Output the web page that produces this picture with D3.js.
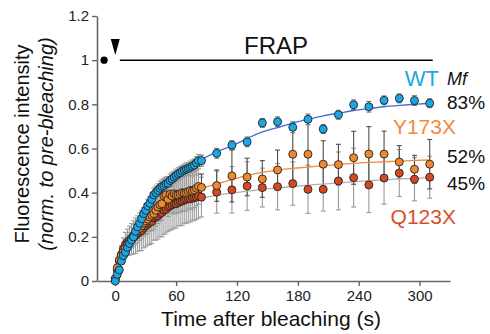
<!DOCTYPE html>
<html>
<head>
<meta charset="utf-8">
<script src="https://cdn.jsdelivr.net/npm/d3@7"></script>
<style>
  body { margin: 0; background: #fff; }
  svg text { font-family: "Liberation Sans", Arial, sans-serif; }
</style>
</head>
<body>
<div id="chart"></div>
<script>
// time points (s): fast imaging first, then every 15 s
var times = [0, 2, 4, 6, 8, 10, 12, 14, 16, 18, 20, 22, 24, 26, 28, 30, 32, 34, 36, 38, 40,
             42, 44, 46, 48, 50, 52, 54, 56, 58, 60, 62, 64, 66, 68, 70, 72, 74, 76, 78, 80, 82,
             85, 100, 115, 130, 145, 160, 175, 190, 205, 220, 235, 250, 265, 280, 295, 310];

var wt = [0, 0.03, 0.05, 0.09, 0.115, 0.13, 0.152, 0.17, 0.185, 0.2, 0.225, 0.245, 0.262, 0.282, 0.305, 0.32, 0.34, 0.352, 0.37, 0.39, 0.4,
          0.41, 0.42, 0.428, 0.432, 0.44, 0.443, 0.455, 0.462, 0.47, 0.478, 0.485, 0.49, 0.497, 0.502, 0.507, 0.51, 0.515, 0.52, 0.525, 0.535, 0.545,
          0.545, 0.578, 0.615, 0.63, 0.716, 0.721, 0.696, 0.732, 0.688, 0.753, 0.798, 0.789, 0.818, 0.827, 0.817, 0.805];
var wtErr = [0, 0.01, 0.015, 0.015, 0.02, 0.02, 0.02, 0.022, 0.022, 0.025, 0.025, 0.024, 0.027, 0.027, 0.028, 0.028, 0.03, 0.029, 0.03, 0.031, 0.03,
             0.03, 0.032, 0.03, 0.031, 0.03, 0.03, 0.029, 0.03, 0.028, 0.029, 0.028, 0.028, 0.027, 0.028, 0.028, 0.027, 0.028, 0.028, 0.027, 0.028, 0.028,
             0.025, 0.022, 0.02, 0.022, 0.02, 0.022, 0.025, 0.024, 0.02, 0.02, 0.022, 0.024, 0.02, 0.02, 0.022, 0.02];

var y173x = [0.01, 0.06, 0.095, 0.115, 0.13, 0.15, 0.165, 0.18, 0.195, 0.205, 0.215, 0.228, 0.238, 0.25, 0.262, 0.272, 0.28, 0.29, 0.298, 0.305, 0.32,
             0.335, 0.345, 0.35, 0.385, 0.39, 0.37, 0.392, 0.385, 0.395, 0.39, 0.39, 0.395, 0.4, 0.398, 0.4, 0.405, 0.41, 0.408, 0.412, 0.42, 0.428,
             0.424, 0.432, 0.476, 0.471, 0.462, 0.503, 0.574, 0.574, 0.529, 0.527, 0.558, 0.575, 0.575, 0.539, 0.506, 0.529];
var y173xErr = [0, 0.01, 0.02, 0.025, 0.03, 0.035, 0.04, 0.04, 0.045, 0.05, 0.05, 0.055, 0.055, 0.06, 0.06, 0.062, 0.065, 0.065, 0.07, 0.07, 0.072,
                0.075, 0.075, 0.074, 0.08, 0.08, 0.078, 0.08, 0.082, 0.085, 0.085, 0.08, 0.085, 0.084, 0.08, 0.085, 0.08, 0.08, 0.085, 0.08, 0.08, 0.08,
                0.06, 0.071, 0.118, 0.085, 0.083, 0.09, 0.14, 0.163, 0.106, 0.092, 0.12, 0.124, 0.104, 0.074, 0.063, 0.112];

var q123x = [0.01, 0.05, 0.09, 0.12, 0.145, 0.165, 0.175, 0.183, 0.19, 0.198, 0.205, 0.215, 0.222, 0.228, 0.24, 0.25, 0.258, 0.265, 0.27, 0.285, 0.29,
             0.295, 0.305, 0.31, 0.32, 0.325, 0.335, 0.34, 0.345, 0.35, 0.35, 0.355, 0.36, 0.362, 0.367, 0.37, 0.372, 0.372, 0.375, 0.378, 0.38, 0.385,
             0.38, 0.402, 0.413, 0.43, 0.423, 0.427, 0.441, 0.415, 0.415, 0.453, 0.468, 0.435, 0.466, 0.489, 0.461, 0.47];
var q123xErr = [0, 0.015, 0.03, 0.04, 0.05, 0.055, 0.06, 0.065, 0.07, 0.075, 0.08, 0.08, 0.085, 0.09, 0.09, 0.095, 0.095, 0.1, 0.1, 0.1, 0.105,
                0.105, 0.105, 0.11, 0.11, 0.108, 0.11, 0.11, 0.112, 0.11, 0.11, 0.105, 0.11, 0.11, 0.105, 0.11, 0.105, 0.105, 0.1, 0.105, 0.1, 0.1,
                0.09, 0.095, 0.105, 0.11, 0.088, 0.105, 0.098, 0.109, 0.098, 0.131, 0.133, 0.125, 0.118, 0.106, 0.098, 0.095];

// fitted recovery curves
var fitTimes = [70, 85, 100, 115, 130, 145, 160, 175, 190, 205, 220, 235, 250, 265, 280, 295, 310];
var wtFit    = [0.505, 0.55, 0.585, 0.612, 0.645, 0.675, 0.695, 0.715, 0.732, 0.748, 0.76, 0.772, 0.781, 0.789, 0.795, 0.8, 0.805];
var y173xFit = [0.40, 0.42, 0.44, 0.458, 0.478, 0.492, 0.502, 0.51, 0.516, 0.522, 0.528, 0.533, 0.537, 0.54, 0.543, 0.546, 0.548];
var q123xFit = [0.36, 0.375, 0.388, 0.398, 0.407, 0.415, 0.421, 0.428, 0.434, 0.439, 0.444, 0.449, 0.454, 0.458, 0.462, 0.465, 0.468];

var xTicks = [0, 60, 120, 180, 240, 300];
var yTicks = [0, 0.2, 0.4, 0.6, 0.8, 1, 1.2];

var series = [
  { name: 'Q123X', values: q123x, err: q123xErr, fit: q123xFit, fill: '#d4491f', fitColor: '#b0b0b0', lateBar: '#9a9a9a', mf: '45%' },
  { name: 'Y173X', values: y173x, err: y173xErr, fit: y173xFit, fill: '#f0892e', fitColor: '#f28a36', lateBar: '#4d4d4d', mf: '52%' },
  { name: 'WT',    values: wt,    err: wtErr,    fit: wtFit,    fill: '#1ba6e6', fitColor: '#3d6fd6', lateBar: '#6f6f6f', mf: '83%' }
];

var svg = d3.select('#chart').append('svg')
  .attr('width', 490)
  .attr('height', 334);

var x = d3.scaleLinear().domain([-18, 330]).range([97, 450]);
var y = d3.scaleLinear().domain([0, 1.2]).range([281, 16]);

// axes
var gx = svg.append('g')
  .attr('transform', 'translate(0,' + y(0) + ')')
  .call(d3.axisBottom(x).tickValues(xTicks).tickSize(5).tickSizeOuter(0).tickPadding(4));
var gy = svg.append('g')
  .attr('transform', 'translate(' + x(-18) + ',0)')
  .call(d3.axisLeft(y).tickValues(yTicks).tickSize(5).tickSizeOuter(0).tickPadding(3).tickFormat(d3.format('~g')));

[gx, gy].forEach(function(g){
  g.select('.domain').attr('stroke', '#666').attr('stroke-width', 1.6);
  g.selectAll('.tick line').attr('stroke', '#666').attr('stroke-width', 1.4);
  g.selectAll('.tick text').attr('fill', '#222').attr('font-size', '15px')
    .style('font-family', '"Liberation Sans", Arial, sans-serif');
});

// error bars
function drawErrors(s){
  var g = svg.append('g');
  times.forEach(function(t, i){
    var e = s.err[i];
    if (!e) return;
    var v = s.values[i];
    var col = t > 84 ? s.lateBar : '#9c9c9c';
    var cx = x(t);
    g.append('line').attr('x1', cx).attr('x2', cx).attr('y1', y(v - e)).attr('y2', y(v + e))
      .attr('stroke', col).attr('stroke-width', 1.1);
    [v - e, v + e].forEach(function(b){
      g.append('line').attr('x1', cx - 2.5).attr('x2', cx + 2.5).attr('y1', y(b)).attr('y2', y(b))
        .attr('stroke', col).attr('stroke-width', 1.1);
    });
  });
}
series.forEach(drawErrors);

// fit curves
var fitLine = d3.line().curve(d3.curveMonotoneX)
  .x(function(d){ return x(d[0]); })
  .y(function(d){ return y(d[1]); });

series.forEach(function(s){
  svg.append('path')
    .datum(fitTimes.map(function(t, i){ return [t, s.fit[i]]; }))
    .attr('fill', 'none')
    .attr('stroke', s.fitColor)
    .attr('stroke-width', 1.3)
    .attr('d', fitLine);
});

// data points
series.forEach(function(s){
  svg.append('g').selectAll('circle')
    .data(times.map(function(t, i){ return [t, s.values[i]]; }))
    .enter()
    .append('circle')
    .attr('cx', function(d){ return x(d[0]); })
    .attr('cy', function(d){ return y(d[1]); })
    .attr('r', 4)
    .attr('fill', s.fill)
    .attr('stroke', '#222')
    .attr('stroke-width', 0.9);
});

// pre-bleach point, bleach arrow and FRAP bar
svg.append('circle').attr('cx', x(-11)).attr('cy', y(1)).attr('r', 3.6).attr('fill', '#000');
svg.append('path')
  .attr('d', d3.line()([[x(0) - 4.5, 39], [x(0) + 4.5, 39], [x(0), 55]]) + 'Z')
  .attr('fill', '#000');
svg.append('line')
  .attr('x1', x(4.5)).attr('x2', x(313))
  .attr('y1', y(1)).attr('y2', y(1))
  .attr('stroke', '#000').attr('stroke-width', 1.5);
svg.append('text').attr('x', 276).attr('y', 54).attr('text-anchor', 'middle')
  .attr('font-size', '24px').attr('fill', '#111').text('FRAP');

// legend labels
svg.append('text').attr('x', 439).attr('y', 86).attr('text-anchor', 'end')
  .attr('font-size', '22px').attr('fill', '#1ba6e6').text('WT');
svg.append('text').attr('x', 447).attr('y', 85)
  .attr('font-size', '18px').attr('font-style', 'italic').attr('fill', '#111').text('Mf');
svg.append('text').attr('x', 456).attr('y', 134).attr('text-anchor', 'end')
  .attr('font-size', '21px').attr('fill', '#f28a3c').text('Y173X');
svg.append('text').attr('x', 456).attr('y', 224).attr('text-anchor', 'end')
  .attr('font-size', '21px').attr('fill', '#d6502a').text('Q123X');

var mfY = { 'WT': 109, 'Y173X': 163, 'Q123X': 190 };
series.forEach(function(s){
  svg.append('text').attr('x', 447).attr('y', mfY[s.name])
    .attr('font-size', '19px').attr('fill', '#111').text(s.mf);
});

// axis titles
svg.append('text')
  .attr('transform', 'translate(29,144) rotate(-90)')
  .attr('text-anchor', 'middle').attr('font-size', '20px').attr('fill', '#111')
  .text('Fluorescence intensity');
svg.append('text')
  .attr('transform', 'translate(53,144) rotate(-90)')
  .attr('text-anchor', 'middle').attr('font-size', '20px').attr('font-style', 'italic').attr('fill', '#111')
  .text('(norm. to pre-bleaching)');
svg.append('text')
  .attr('x', 271).attr('y', 326).attr('text-anchor', 'middle')
  .attr('font-size', '21px').attr('fill', '#111')
  .text('Time after bleaching (s)');
</script>
</body>
</html>
